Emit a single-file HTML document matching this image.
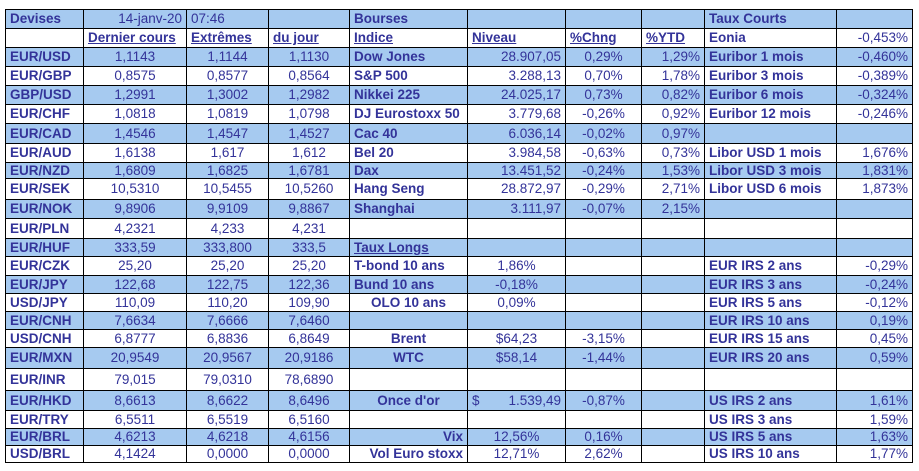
<!DOCTYPE html>
<html><head><meta charset="utf-8">
<style>
html,body{margin:0;padding:0;background:#fff;width:919px;height:471px;overflow:hidden}
table{position:absolute;left:5px;top:9px;border-collapse:collapse;table-layout:fixed;font-family:"Liberation Sans",Arial,sans-serif;font-size:13.5px;color:#333399}
td{border:1px solid #000;padding:0 4px;white-space:nowrap;overflow:hidden;line-height:14px}
tr.b td{background:#a6caf0}
.l{text-align:left;font-weight:bold}
.c{text-align:center}
.r{text-align:right}
.u{text-decoration:underline;font-weight:bold}
.bl{font-weight:bold}
</style></head><body>
<table>
<colgroup><col style="width:78px"><col style="width:103px"><col style="width:82px"><col style="width:81px"><col style="width:118px"><col style="width:98px"><col style="width:76px"><col style="width:63px"><col style="width:132px"><col style="width:76px"></colgroup>
<tr class="b" style="height:19px"><td class="l">Devises</td><td class="r">14-janv-20</td><td>07:46</td><td></td><td class="l">Bourses</td><td></td><td></td><td></td><td class="l">Taux Courts</td><td></td></tr>
<tr style="height:19px"><td></td><td class="u">Dernier cours</td><td class="u">Extrêmes</td><td class="u">du jour</td><td class="u">Indice</td><td class="u">Niveau</td><td class="u">%Chng</td><td class="u">%YTD</td><td class="l">Eonia</td><td class="r">-0,453%</td></tr>
<tr class="b" style="height:19px"><td class="l">EUR/USD</td><td class="c">1,1143</td><td class="c">1,1144</td><td class="c">1,1130</td><td class="l">Dow Jones</td><td class="r">28.907,05</td><td class="c">0,29%</td><td class="r">1,29%</td><td class="l">Euribor 1 mois</td><td class="r">-0,460%</td></tr>
<tr style="height:19px"><td class="l">EUR/GBP</td><td class="c">0,8575</td><td class="c">0,8577</td><td class="c">0,8564</td><td class="l">S&amp;P 500</td><td class="r">3.288,13</td><td class="c">0,70%</td><td class="r">1,78%</td><td class="l">Euribor 3 mois</td><td class="r">-0,389%</td></tr>
<tr class="b" style="height:19px"><td class="l">GBP/USD</td><td class="c">1,2991</td><td class="c">1,3002</td><td class="c">1,2982</td><td class="l">Nikkei 225</td><td class="r">24.025,17</td><td class="c">0,73%</td><td class="r">0,82%</td><td class="l">Euribor 6 mois</td><td class="r">-0,324%</td></tr>
<tr style="height:19px"><td class="l">EUR/CHF</td><td class="c">1,0818</td><td class="c">1,0819</td><td class="c">1,0798</td><td class="l">DJ Eurostoxx 50</td><td class="r">3.779,68</td><td class="c">-0,26%</td><td class="r">0,92%</td><td class="l">Euribor 12 mois</td><td class="r">-0,246%</td></tr>
<tr class="b" style="height:20px"><td class="l">EUR/CAD</td><td class="c">1,4546</td><td class="c">1,4547</td><td class="c">1,4527</td><td class="l">Cac 40</td><td class="r">6.036,14</td><td class="c">-0,02%</td><td class="r">0,97%</td><td></td><td></td></tr>
<tr style="height:19px"><td class="l">EUR/AUD</td><td class="c">1,6138</td><td class="c">1,617</td><td class="c">1,612</td><td class="l">Bel 20</td><td class="r">3.984,58</td><td class="c">-0,63%</td><td class="r">0,73%</td><td class="l">Libor USD 1 mois</td><td class="r">1,676%</td></tr>
<tr class="b" style="height:16px"><td class="l">EUR/NZD</td><td class="c">1,6809</td><td class="c">1,6825</td><td class="c">1,6781</td><td class="l">Dax</td><td class="r">13.451,52</td><td class="c">-0,24%</td><td class="r">1,53%</td><td class="l">Libor USD 3 mois</td><td class="r">1,831%</td></tr>
<tr style="height:21px"><td class="l">EUR/SEK</td><td class="c">10,5310</td><td class="c">10,5455</td><td class="c">10,5260</td><td class="l">Hang Seng</td><td class="r">28.872,97</td><td class="c">-0,29%</td><td class="r">2,71%</td><td class="l">Libor USD 6 mois</td><td class="r">1,873%</td></tr>
<tr class="b" style="height:19px"><td class="l">EUR/NOK</td><td class="c">9,8906</td><td class="c">9,9109</td><td class="c">9,8867</td><td class="l">Shanghai</td><td class="r">3.111,97</td><td class="c">-0,07%</td><td class="r">2,15%</td><td></td><td></td></tr>
<tr style="height:20px"><td class="l">EUR/PLN</td><td class="c">4,2321</td><td class="c">4,233</td><td class="c">4,231</td><td></td><td></td><td></td><td></td><td></td><td></td></tr>
<tr class="b" style="height:18px"><td class="l">EUR/HUF</td><td class="c">333,59</td><td class="c">333,800</td><td class="c">333,5</td><td class="u">Taux Longs</td><td></td><td></td><td></td><td></td><td></td></tr>
<tr style="height:19px"><td class="l">EUR/CZK</td><td class="c">25,20</td><td class="c">25,20</td><td class="c">25,20</td><td class="l">T-bond 10 ans</td><td class="c">1,86%</td><td></td><td></td><td class="l">EUR IRS 2 ans</td><td class="r">-0,29%</td></tr>
<tr class="b" style="height:18px"><td class="l">EUR/JPY</td><td class="c">122,68</td><td class="c">122,75</td><td class="c">122,36</td><td class="l">Bund 10 ans</td><td class="c">-0,18%</td><td></td><td></td><td class="l">EUR IRS 3 ans</td><td class="r">-0,24%</td></tr>
<tr style="height:18px"><td class="l">USD/JPY</td><td class="c">110,09</td><td class="c">110,20</td><td class="c">109,90</td><td class="bl c">OLO 10 ans</td><td class="c">0,09%</td><td></td><td></td><td class="l">EUR IRS 5 ans</td><td class="r">-0,12%</td></tr>
<tr class="b" style="height:18px"><td class="l">EUR/CNH</td><td class="c">7,6634</td><td class="c">7,6666</td><td class="c">7,6460</td><td></td><td></td><td></td><td></td><td class="l">EUR IRS 10 ans</td><td class="r">0,19%</td></tr>
<tr style="height:18px"><td class="l">USD/CNH</td><td class="c">6,8777</td><td class="c">6,8836</td><td class="c">6,8649</td><td class="bl c">Brent</td><td class="c">$64,23</td><td class="c">-3,15%</td><td></td><td class="l">EUR IRS 15 ans</td><td class="r">0,45%</td></tr>
<tr class="b" style="height:21px"><td class="l">EUR/MXN</td><td class="c">20,9549</td><td class="c">20,9567</td><td class="c">20,9186</td><td class="bl c">WTC</td><td class="c">$58,14</td><td class="c">-1,44%</td><td></td><td class="l">EUR IRS 20 ans</td><td class="r">0,59%</td></tr>
<tr style="height:22px"><td class="l">EUR/INR</td><td class="c">79,015</td><td class="c">79,0310</td><td class="c">78,6890</td><td></td><td></td><td></td><td></td><td></td><td></td></tr>
<tr class="b" style="height:20px"><td class="l">EUR/HKD</td><td class="c">8,6613</td><td class="c">8,6622</td><td class="c">8,6496</td><td class="bl c">Once d'or</td><td><span style="float:left">$</span><span style="float:right">1.539,49</span></td><td class="c">-0,87%</td><td></td><td class="l">US IRS 2 ans</td><td class="r">1,61%</td></tr>
<tr style="height:18px"><td class="l">EUR/TRY</td><td class="c">6,5511</td><td class="c">6,5519</td><td class="c">6,5160</td><td></td><td></td><td></td><td></td><td class="l">US IRS 3 ans</td><td class="r">1,59%</td></tr>
<tr class="b" style="height:17px"><td class="l">EUR/BRL</td><td class="c">4,6213</td><td class="c">4,6218</td><td class="c">4,6156</td><td class="bl r">Vix</td><td class="c">12,56%</td><td class="c">0,16%</td><td></td><td class="l">US IRS 5 ans</td><td class="r">1,63%</td></tr>
<tr style="height:17px"><td class="l">USD/BRL</td><td class="c">4,1424</td><td class="c">0,0000</td><td class="c">0,0000</td><td class="bl r">Vol Euro stoxx</td><td class="c">12,71%</td><td class="c">2,62%</td><td></td><td class="l">US IRS 10 ans</td><td class="r">1,77%</td></tr>
</table>
</body></html>
